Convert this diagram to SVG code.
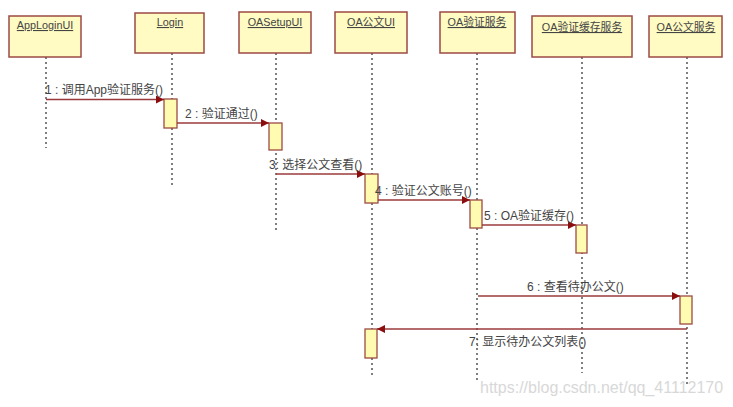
<svg xmlns="http://www.w3.org/2000/svg" width="733" height="407" viewBox="0 0 733 407">
<defs>
<marker id="ah" viewBox="0 0 10 10" refX="10" refY="5" markerWidth="10" markerHeight="8" markerUnits="userSpaceOnUse" orient="auto">
<path d="M0,0 L10,5 L0,10 z" fill="#8b0d0d"/>
</marker>
<style>
.box{fill:#fffbc2;stroke:#9c4a44;stroke-width:1.5}
.act{fill:#fffbb0;stroke:#9c4a44;stroke-width:1.3}
.life{stroke:#555;stroke-width:1.5;stroke-dasharray:2 3;fill:none}
.msg{stroke:#9a3a3a;stroke-width:1.3;fill:none;marker-end:url(#ah)}
.hd{font-family:"Liberation Sans","Noto Sans CJK SC",sans-serif;font-size:10.8px;fill:#444;text-decoration:underline;text-anchor:middle}
.lb{font-family:"Liberation Sans","Noto Sans CJK SC",sans-serif;font-size:12px;fill:#444}
.wm{font-family:"Liberation Sans",sans-serif;font-size:16px;fill:#d8d8d8}
</style>
</defs>
<g id="lifelines">
<line class="life" x1="46" y1="57" x2="46" y2="148"/>
<line class="life" x1="172" y1="53" x2="172" y2="188"/>
<line class="life" x1="276" y1="53" x2="276" y2="232"/>
<line class="life" x1="372" y1="53" x2="372" y2="376"/>
<line class="life" x1="477" y1="53" x2="477" y2="380"/>
<line class="life" x1="582" y1="57" x2="582" y2="373"/>
<line class="life" x1="687" y1="57" x2="687" y2="385"/>
</g>
<g id="n-apploginui"><rect class="box" x="9" y="16" width="72" height="41"/><text class="hd" x="45" y="29">AppLoginUI</text></g>
<g id="n-login"><rect class="box" x="135" y="13" width="69" height="40"/><text class="hd" x="170" y="26">Login</text></g>
<g id="n-oasetupui"><rect class="box" x="239" y="12" width="72" height="41"/><text class="hd" x="275" y="26">OASetupUI</text></g>
<g id="n-oagongwenui"><rect class="box" x="335" y="12" width="72" height="41"/><text class="hd" x="371" y="26">OA公文UI</text></g>
<g id="n-oayanzheng"><rect class="box" x="440" y="12" width="75" height="41"/><text class="hd" x="477" y="26">OA验证服务</text></g>
<g id="n-oacache"><rect class="box" x="532" y="16" width="100" height="41"/><text class="hd" x="582" y="31">OA验证缓存服务</text></g>
<g id="n-oagongwen"><rect class="box" x="649" y="16" width="73" height="41"/><text class="hd" x="686" y="31">OA公文服务</text></g>
<g id="activations">
<rect class="act" x="164" y="99" width="13" height="29"/>
<rect class="act" x="269" y="123" width="13" height="27"/>
<rect class="act" x="365" y="174" width="13" height="29"/>
<rect class="act" x="470" y="200" width="12" height="28"/>
<rect class="act" x="576" y="225" width="11" height="28"/>
<rect class="act" x="680" y="296" width="12" height="28"/>
<rect class="act" x="365" y="329" width="12" height="29"/>
</g>
<g id="connectors">
<line class="msg" x1="46" y1="99.5" x2="164" y2="99.5"/>
<line class="msg" x1="177" y1="123" x2="269" y2="123"/>
<line class="msg" x1="276" y1="174" x2="365" y2="174"/>
<line class="msg" x1="378" y1="200" x2="470" y2="200"/>
<line class="msg" x1="482" y1="225" x2="576" y2="225"/>
<line class="msg" x1="478" y1="296" x2="680" y2="296"/>
<line class="msg" x1="687" y1="329" x2="377" y2="329"/>
</g>
<g id="labels">
<text class="lb" x="45" y="94">1 : 调用App验证服务()</text>
<text class="lb" x="185" y="118">2 : 验证通过()</text>
<text class="lb" x="269" y="169">3: 选择公文查看()</text>
<text class="lb" x="375" y="195">4 : 验证公文账号()</text>
<text class="lb" x="484" y="220">5 : OA验证缓存()</text>
<text class="lb" x="527" y="291">6 : 查看待办公文()</text>
<text class="lb" x="469" y="346">7: 显示待办公文列表()</text>
</g>
<text class="wm" x="480" y="393">https://blog.csdn.net/qq_41112170</text>
</svg>
